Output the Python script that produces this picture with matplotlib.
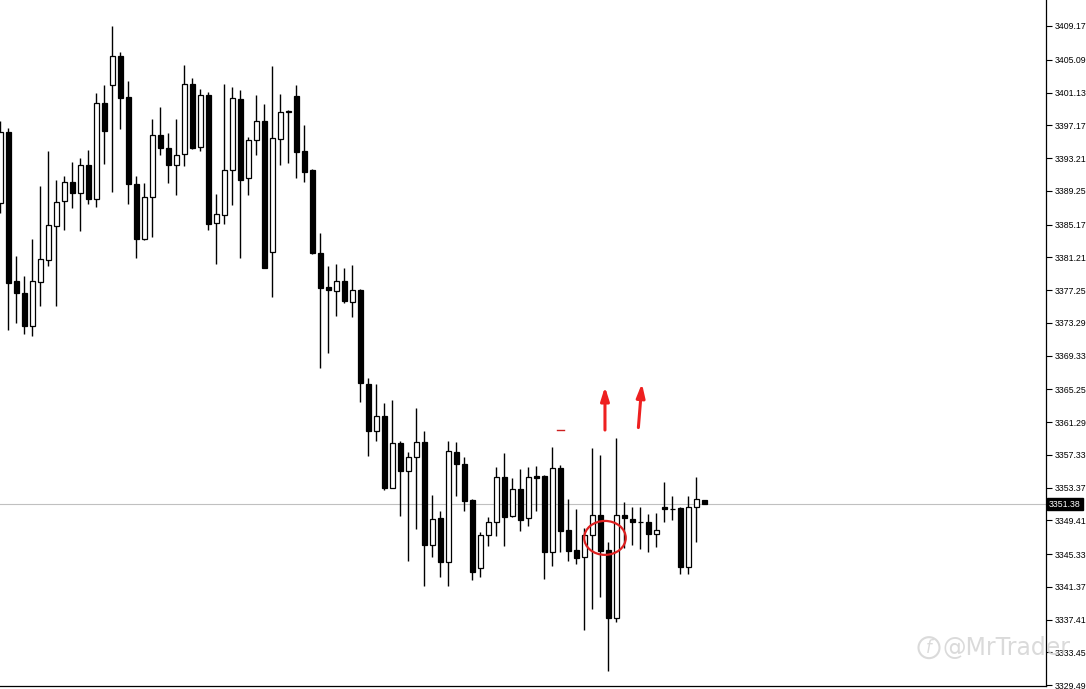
import matplotlib
matplotlib.use("Agg")
import matplotlib.pyplot as plt
from matplotlib.patches import Ellipse
import numpy as np

## OHLC (one row of ten candles per line)
opens = [3387.80, 3396.37, 3378.39, 3376.94, 3372.95, 3378.26, 3380.92, 3385.03, 3388.04, 3390.34,
         3389.01, 3392.39, 3388.29, 3399.88, 3402.05, 3405.55, 3400.60, 3390.10, 3383.46, 3388.53,
         3396.01, 3394.44, 3392.39, 3393.72, 3402.17, 3394.56, 3400.84, 3385.39, 3386.35, 3391.79,
         3400.36, 3390.82, 3395.41, 3397.70, 3381.89, 3395.53, 3398.79, 3400.72, 3394.08, 3391.79,
         3381.77, 3377.66, 3377.18, 3378.39, 3375.85, 3377.30, 3365.95, 3360.16, 3362.09, 3353.39,
         3358.71, 3355.33, 3357.02, 3358.83, 3346.39, 3349.65, 3344.34, 3357.74, 3356.29, 3351.82,
         3343.62, 3347.60, 3349.17, 3354.60, 3349.89, 3353.15, 3349.65, 3354.72, 3354.84, 3345.55,
         3355.69, 3348.20, 3345.79, 3344.94, 3347.60, 3350.01, 3345.79, 3337.58, 3350.01, 3349.53,
         3349.17, 3349.17, 3347.72, 3350.98, 3350.74, 3350.86, 3343.74, 3350.98, 3351.85]
closes = [3396.37, 3378.14, 3376.94, 3372.95, 3378.39, 3381.04, 3385.15, 3387.92, 3390.34, 3389.01,
          3392.39, 3388.29, 3399.88, 3396.49, 3405.55, 3400.48, 3390.10, 3383.46, 3388.53, 3396.01,
          3394.44, 3392.39, 3393.60, 3402.17, 3394.44, 3400.84, 3385.27, 3386.47, 3391.79, 3400.48,
          3390.58, 3395.41, 3397.70, 3379.95, 3395.65, 3398.79, 3398.79, 3393.96, 3391.54, 3381.77,
          3377.54, 3377.30, 3378.39, 3375.97, 3377.30, 3366.07, 3360.16, 3362.09, 3353.39, 3358.71,
          3355.33, 3357.02, 3358.83, 3346.39, 3349.53, 3344.34, 3357.86, 3356.29, 3351.70, 3343.13,
          3347.60, 3349.17, 3354.60, 3349.77, 3353.15, 3349.41, 3354.60, 3354.48, 3345.55, 3355.69,
          3348.08, 3345.67, 3344.82, 3347.60, 3350.01, 3345.67, 3337.58, 3350.01, 3349.65, 3349.17,
          3349.17, 3347.72, 3348.20, 3350.74, 3350.74, 3343.74, 3350.98, 3351.95, 3351.38]
highs = [3397.70, 3396.86, 3381.40, 3378.99, 3383.46, 3389.85, 3394.08, 3390.58, 3391.06, 3392.75,
         3393.24, 3394.20, 3401.08, 3402.05, 3409.17, 3406.03, 3402.53, 3391.06, 3390.22, 3397.94,
         3399.39, 3396.25, 3397.94, 3404.46, 3402.89, 3401.57, 3401.20, 3388.89, 3402.17, 3401.81,
         3401.44, 3395.77, 3400.84, 3399.75, 3404.34, 3400.96, 3399.03, 3402.05, 3397.22, 3391.90,
         3384.18, 3380.20, 3380.44, 3379.95, 3380.32, 3377.42, 3366.67, 3365.95, 3363.66, 3364.02,
         3359.07, 3357.74, 3363.05, 3360.16, 3352.43, 3350.50, 3359.07, 3358.83, 3357.02, 3351.95,
         3347.96, 3349.77, 3355.81, 3357.62, 3354.48, 3355.57, 3355.81, 3355.93, 3354.90, 3358.34,
         3356.05, 3351.95, 3350.74, 3348.44, 3358.22, 3357.26, 3346.75, 3359.43, 3351.58, 3350.98,
         3350.98, 3350.13, 3350.26, 3354.00, 3352.31, 3350.98, 3352.31, 3354.60, 3351.85]
lows = [3386.60, 3372.47, 3373.31, 3371.99, 3371.75, 3375.37, 3380.20, 3375.37, 3384.54, 3387.20,
        3384.42, 3387.68, 3387.32, 3392.51, 3389.13, 3396.74, 3387.68, 3381.16, 3383.34, 3383.70,
        3393.60, 3390.22, 3388.77, 3392.27, 3394.32, 3394.08, 3384.54, 3380.44, 3385.27, 3387.56,
        3381.16, 3388.77, 3393.60, 3379.90, 3376.45, 3392.39, 3392.63, 3390.82, 3390.34, 3381.65,
        3367.88, 3369.69, 3374.16, 3375.73, 3374.04, 3363.78, 3357.14, 3358.95, 3353.03, 3353.27,
        3349.89, 3344.46, 3348.32, 3341.44, 3344.94, 3342.53, 3341.44, 3352.31, 3350.50, 3342.17,
        3342.53, 3346.27, 3347.48, 3346.27, 3349.77, 3348.08, 3348.69, 3350.50, 3342.29, 3343.86,
        3345.55, 3344.46, 3344.10, 3336.13, 3338.67, 3340.11, 3331.18, 3337.09, 3346.03, 3346.39,
        3345.91, 3345.55, 3346.15, 3349.17, 3349.41, 3342.89, 3342.89, 3346.75, 3351.38]

price_ticks = [3409.17, 3405.09, 3401.13, 3397.17, 3393.21, 3389.25, 3385.17, 3381.21, 3377.25,
               3373.29, 3369.33, 3365.25, 3361.29, 3357.33, 3353.37, 3349.41, 3345.33, 3341.37,
               3337.41, 3333.45, 3329.49]
last_price = 3351.38

fig = plt.figure(figsize=(10.86, 6.89), dpi=100)
ax = fig.add_axes([0.0, 0.004, 1046 / 1086, 0.996])

o = np.array(opens); c = np.array(closes); h = np.array(highs); l = np.array(lows)
x = np.arange(len(o))
bull = c >= o

## wicks
ax.vlines(x, l, h, color="black", lw=1.0, zorder=2)

## bodies
w = 0.62
bottom = np.minimum(o, c)
height = np.maximum(np.abs(c - o), 0.08)
ax.bar(x[bull], height[bull], w, bottom=bottom[bull], facecolor="white",
       edgecolor="black", linewidth=0.9, zorder=3)
ax.bar(x[~bull], height[~bull], w, bottom=bottom[~bull], facecolor="black",
       edgecolor="black", linewidth=0.9, zorder=3)

## last price line
ax.axhline(last_price, color="#c0c0c0", lw=0.8, zorder=1)

ax.set_xlim(-0.05, 1046 / 8)
ax.set_ylim(3329.37, 3412.31)

lab_font = "Liberation Sans"
ax.yaxis.tick_right()
ax.set_yticks(price_ticks)
ax.set_yticklabels(["%.2f" % t for t in price_ticks], fontsize=6.3, family=lab_font)
ax.tick_params(axis="y", direction="out", length=4, width=0.8, pad=2)
ax.set_xticks([])
for s in ["left", "top"]:
    ax.spines[s].set_visible(False)
ax.spines["right"].set_linewidth(0.9)
ax.spines["bottom"].set_linewidth(0.9)

## current price box
ax.text(1.003, last_price, "%.2f" % last_price, transform=ax.get_yaxis_transform(),
        fontsize=6.3, family=lab_font, color="white", va="center", ha="left",
        bbox=dict(boxstyle="square,pad=0.2", facecolor="black", edgecolor="black"))

## red marks
red = "#ee2020"
ax.plot([69.6, 70.5], [3360.4, 3360.4], color="#cc2020", lw=1.0)
ax.annotate("", xy=(75.6, 3365.9), xytext=(75.6, 3360.0),
            arrowprops=dict(arrowstyle="-|>,head_width=0.25,head_length=0.8", color=red, lw=2.2))
ax.annotate("", xy=(80.25, 3366.3), xytext=(79.75, 3360.3),
            arrowprops=dict(arrowstyle="-|>,head_width=0.25,head_length=0.8", color=red, lw=2.2))
ax.add_patch(Ellipse((75.6, 3347.3), 5.2, 4.1, fill=False, edgecolor="#dd2020", lw=1.6, zorder=5))

## watermark: small round logo drawn as a shape, then the handle
wy = 0.06
fig.patches.append(Ellipse((929 / 1086, wy), 21 / 1086, 21 / 689, transform=fig.transFigure,
                           fill=False, edgecolor="#d4d4d4", lw=1.5, alpha=0.85))
fig.text(929 / 1086, wy, "f", fontsize=12, color="#d4d4d4", alpha=0.85, style="italic",
         va="center", ha="center", family="DejaVu Sans")
fig.text(0.868, wy, "@MrTrader", fontsize=17, color="#d4d4d4", alpha=0.85,
         va="center", ha="left", family="DejaVu Sans", zorder=10)

fig.savefig("out.png", dpi=100, facecolor="white")
